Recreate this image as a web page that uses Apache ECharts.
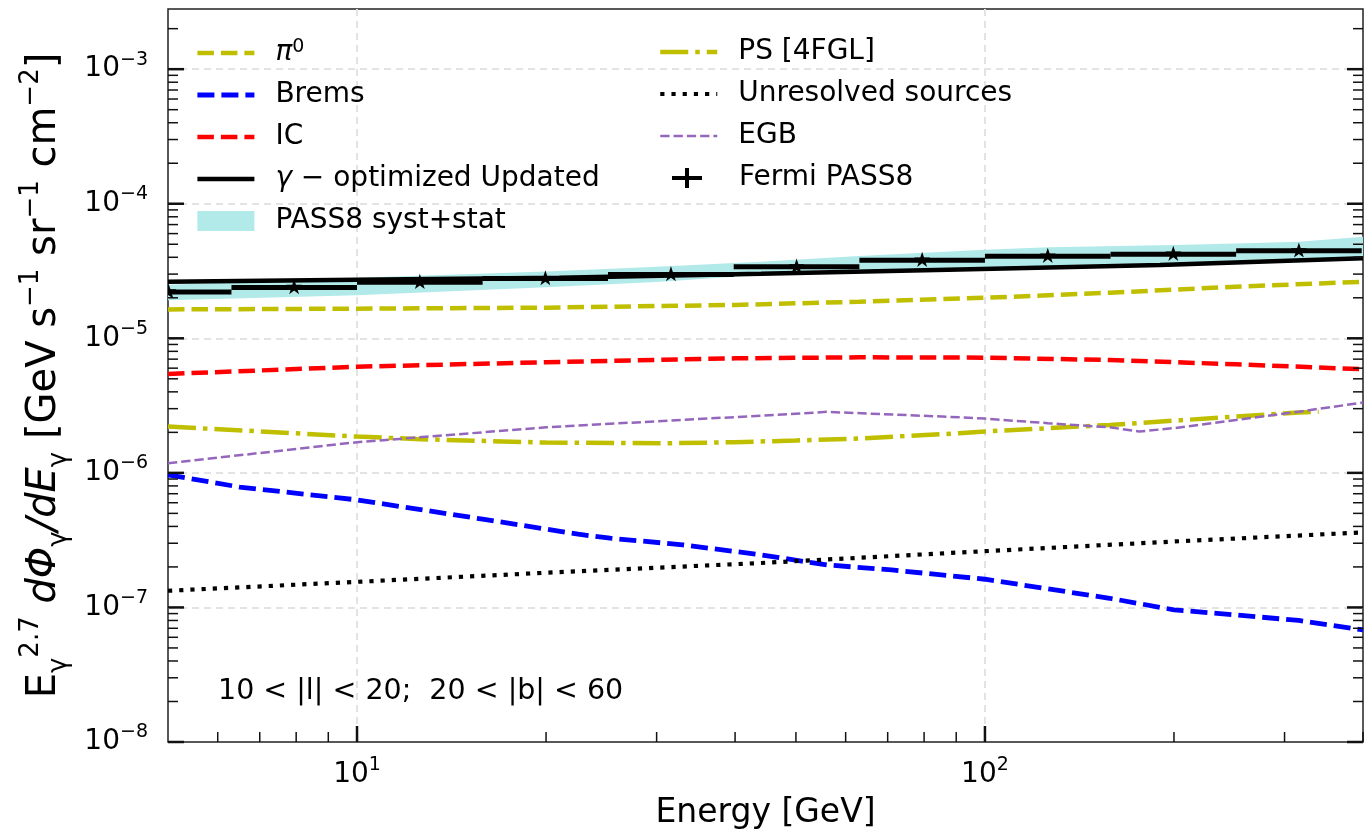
<!DOCTYPE html>
<html>
<head>
<meta charset="utf-8">
<script src="https://cdn.jsdelivr.net/npm/echarts@6/dist/echarts.min.js"></script>
<style>
  html, body { margin: 0; padding: 0; background: #fff; }
  #chart { width: 1367px; height: 834px; }
</style>
</head>
<body>
<div id="chart"></div>
<script>
const FONT = 'DejaVu Sans';

// Axis ranges
const X_MIN = 5, X_MAX = 400;
const Y_MIN = 1e-8, Y_MAX = 2.8e-3;

// Fermi-LAT PASS8 spectrum: energy bins [GeV] and E^2.7-weighted intensity
const fermiLow  = [3.98, 6.31, 10.0, 15.85, 25.1, 39.8, 63.1, 100, 158.5, 251.2];
const fermiHigh = [6.31, 10.0, 15.85, 25.1, 39.8, 63.1, 100, 158.5, 251.2, 398.1];
const fermiE    = [5.01, 7.94, 12.59, 19.95, 31.62, 50.12, 79.43, 125.9, 199.5, 316.2];
const fermiFlux = [2.21e-5, 2.39e-5, 2.61e-5, 2.78e-5, 2.98e-5, 3.40e-5, 3.81e-5, 4.08e-5, 4.22e-5, 4.47e-5];

// PASS8 systematic + statistical envelope
const bandE     = [5, 10, 20, 30, 44, 63, 100, 126, 200, 251, 316, 400];
const bandUpper = [2.50e-5, 2.82e-5, 3.13e-5, 3.40e-5, 3.71e-5, 4.09e-5, 4.55e-5, 4.74e-5, 4.93e-5, 5.07e-5, 5.21e-5, 5.68e-5];
const bandLower = [1.92e-5, 2.09e-5, 2.40e-5, 2.62e-5, 2.95e-5, 3.08e-5, 3.20e-5, 3.30e-5, 3.45e-5, 3.55e-5, 3.68e-5, 3.85e-5];

// Total model (gamma-optimized, updated)
const totalE    = [5, 10, 21, 44, 91, 190, 400];
const totalFlux = [2.63e-5, 2.72e-5, 2.82e-5, 3.02e-5, 3.25e-5, 3.50e-5, 3.93e-5];

// Pion decay and inverse Compton
const compE  = [5, 10, 20, 40, 63, 100, 158, 251, 400];
const pi0    = [1.64e-5, 1.66e-5, 1.69e-5, 1.77e-5, 1.87e-5, 2.00e-5, 2.18e-5, 2.42e-5, 2.63e-5];
const icFlux = [5.43e-6, 6.15e-6, 6.64e-6, 7.10e-6, 7.22e-6, 7.18e-6, 6.90e-6, 6.41e-6, 5.89e-6];

// Bremsstrahlung
const bremsE    = [5, 6.5, 10, 15.85, 22.5, 25.3, 33, 44, 56, 71, 100, 158, 200, 251, 316, 400];
const bremsFlux = [9.66e-7, 7.85e-7, 6.30e-7, 4.53e-7, 3.50e-7, 3.27e-7, 2.92e-7, 2.46e-7, 2.07e-7, 1.90e-7, 1.62e-7, 1.17e-7, 9.6e-8, 8.8e-8, 8.0e-8, 6.8e-8];

// Resolved point sources (4FGL)
const psE    = [5, 10, 12.6, 20, 31.6, 40, 50, 63, 91, 100, 158, 251, 316, 340];
const psFlux = [2.21e-6, 1.86e-6, 1.78e-6, 1.68e-6, 1.66e-6, 1.69e-6, 1.74e-6, 1.80e-6, 1.97e-6, 2.03e-6, 2.27e-6, 2.62e-6, 2.81e-6, 2.85e-6];

// Extragalactic background
const egbE    = [5, 10, 20, 31.6, 44, 56, 91, 100, 126, 158, 176, 200, 251, 316, 400];
const egbFlux = [1.18e-6, 1.69e-6, 2.18e-6, 2.45e-6, 2.66e-6, 2.84e-6, 2.59e-6, 2.53e-6, 2.34e-6, 2.18e-6, 2.03e-6, 2.15e-6, 2.47e-6, 2.85e-6, 3.33e-6];

// Unresolved sources
const unresE    = [5, 10, 21, 44, 91, 200, 400];
const unresFlux = [1.33e-7, 1.55e-7, 1.83e-7, 2.14e-7, 2.56e-7, 3.09e-7, 3.61e-7];

// Tick positions
const xMajorTicks = [10, 100];
const xMinorTicks = [6, 7, 8, 9, 20, 30, 40, 50, 60, 70, 80, 90, 200, 300, 400];
const yDecades = [-8, -7, -6, -5, -4, -3];

const regionLabel = '10 < |l| < 20;  20 < |b| < 60';

const BAND_COLOR = '#b2eaea';
const STAR = 'M50,0L61.2,34.5L97.6,34.5L68.2,55.9L79.4,90.5L50,69.1L20.6,90.5L31.8,55.9L2.4,34.5L38.8,34.5Z';

// line styles shared by curves and their legend handles
const STYLE = {
  'pi0':                { color: '#bfbf00', width: 4.5, type: [16.5, 7] },
  'Brems':              { color: '#0000ff', width: 4.8, type: [17, 7] },
  'IC':                 { color: '#ff0000', width: 4.5, type: [16.5, 7] },
  'gamma':              { color: '#000000', width: 4.5, type: 'solid' },
  'PS [4FGL]':          { color: '#bfbf00', width: 4.5, type: [28, 7, 4.5, 7] },
  'Unresolved sources': { color: '#000000', width: 4.2, type: [4.2, 7] },
  'EGB':                { color: '#9467bd', width: 2.5, type: [9.3, 4] }
};

const zip = (xs, ys) => xs.map((x, i) => [x, ys[i]]);

// y tick table: [x, value, isMajor]
const yTickData = [];
yDecades.forEach(k => {
  yTickData.push([X_MIN, Math.pow(10, k), 1]);
  for (let m = 2; m <= 9; m++) {
    const v = m * Math.pow(10, k);
    if (v <= Y_MAX) yTickData.push([X_MIN, v, 0]);
  }
});
const xTickData = xMajorTicks.map(v => [v, Y_MIN, 1]).concat(xMinorTicks.map(v => [v, Y_MIN, 0]));

const richBase = {
  b: { fontFamily: FONT, fontSize: 28, color: '#000', lineHeight: 38 },
  p: { fontFamily: FONT, fontSize: 19, color: '#000', lineHeight: 20, verticalAlign: 'top' }
};

function powLabel(v) {
  const lg = Math.log10(v);
  const k = Math.round(lg);
  if (Math.abs(lg - k) > 1e-6) return '';
  return '{b|10}{p|' + (k < 0 ? '\u2212' + (-k) : k) + '}';
}

const legendRich = {
  b: { fontFamily: FONT, fontSize: 28, color: '#000', lineHeight: 30 },
  i: { fontFamily: FONT, fontSize: 28, fontStyle: 'italic', color: '#000', lineHeight: 30 },
  p: { fontFamily: FONT, fontSize: 19, color: '#000', lineHeight: 18, verticalAlign: 'top' }
};
function legendText(name) {
  if (name === 'pi0') return '{i|\u03c0}{p|0}';
  if (name === 'gamma') return '{i|\u03b3}{b| \u2212 optimized Updated}';
  return '{b|' + name + '}';
}
function lineLegendItem(name) {
  const s = STYLE[name];
  return { name: name, lineStyle: { width: s.width, type: s.type, color: s.color } };
}
const legendCommon = {
  orient: 'vertical',
  padding: 0,
  itemWidth: 57,
  itemHeight: 20,
  itemGap: 14,
  formatter: legendText,
  selectedMode: false,
  itemStyle: { opacity: 0 },
  textStyle: { rich: legendRich, padding: [0, 0, 0, 16] }
};

function lineSeries(name, data) {
  const s = STYLE[name];
  return {
    type: 'line', name: name, data: data, symbol: 'none', smooth: false,
    lineStyle: { color: s.color, width: s.width, type: s.type, cap: 'butt' },
    itemStyle: { color: s.color }, z: 3, silent: true
  };
}

const chart = echarts.init(document.getElementById('chart'), null, { renderer: 'canvas' });

const option = {
  animation: false,
  backgroundColor: '#fff',
  grid: {
    left: 168, right: 4, top: 9, bottom: 92,
    outerBoundsMode: 'none', containLabel: false,
    show: true, borderColor: '#222', borderWidth: 1.5, backgroundColor: 'transparent'
  },
  xAxis: {
    type: 'log', logBase: 10, min: X_MIN, max: X_MAX,
    name: 'Energy [GeV]', nameLocation: 'middle', nameGap: 55, nameMoveOverlap: false,
    nameTextStyle: { fontFamily: FONT, fontSize: 33, color: '#000' },
    axisLine: { show: false },
    axisTick: { show: false },
    axisLabel: {
      formatter: powLabel, margin: 14, showMinLabel: false, showMaxLabel: false,
      rich: richBase
    },
    splitLine: {
      show: true, showMinLine: false, showMaxLine: false,
      lineStyle: { color: '#e3e3e3', width: 2, type: [7, 5] }
    },
    minorTick: { show: false }, minorSplitLine: { show: false }
  },
  yAxis: {
    type: 'log', logBase: 10, min: Y_MIN, max: Y_MAX,
    name: '{b|E}{s|\u03b3}{p|2.7}{b| }{i|d\u03a6}{s|\u03b3}{i|/dE}{s|\u03b3}{b| [GeV s}{p|\u22121}{b| sr}{p|\u22121}{b| cm}{p|\u22122}{b|]}',
    nameLocation: 'middle', nameRotate: 90, nameGap: 96, nameMoveOverlap: false,
    nameTextStyle: {
      rich: {
        b: { fontFamily: FONT, fontSize: 40, color: '#000', lineHeight: 54 },
        i: { fontFamily: FONT, fontSize: 40, fontStyle: 'italic', color: '#000', lineHeight: 54 },
        s: { fontFamily: FONT, fontSize: 26, color: '#000', lineHeight: 27, verticalAlign: 'bottom' },
        p: { fontFamily: FONT, fontSize: 26, color: '#000', lineHeight: 27, verticalAlign: 'top' }
      }
    },
    axisLine: { show: false },
    axisTick: { show: false },
    axisLabel: {
      formatter: powLabel, margin: 20, showMinLabel: true, showMaxLabel: false,
      rich: richBase
    },
    splitLine: {
      show: true, showMinLine: false, showMaxLine: false,
      lineStyle: { color: '#e3e3e3', width: 2, type: [7, 5] }
    },
    minorTick: { show: false }, minorSplitLine: { show: false }
  },
  legend: [
    Object.assign({}, legendCommon, {
      left: 195, top: 38,
      data: ['pi0', 'Brems', 'IC', 'gamma'].map(lineLegendItem).concat([
        { name: 'PASS8 syst+stat', icon: 'rect', itemStyle: { color: BAND_COLOR, opacity: 1 } }])
    }),
    Object.assign({}, legendCommon, {
      left: 658, top: 38,
      data: ['PS [4FGL]', 'Unresolved sources', 'EGB'].map(lineLegendItem)
    }),
    Object.assign({}, legendCommon, {
      left: 672, top: 164, itemWidth: 30,
      itemStyle: { opacity: 1 },
      textStyle: { rich: legendRich, padding: [0, 0, 0, 32] },
      data: [{ name: 'Fermi PASS8', icon: 'path://M0,8L30,8L30,12L0,12Z M13,0L17,0L17,20L13,20Z',
               itemStyle: { color: '#000', opacity: 1 } }]
    })
  ],
  graphic: [{
    type: 'text', left: 218, top: 677, silent: true,
    style: { text: regionLabel, fontFamily: FONT, fontSize: 28.5, fill: '#000' }
  }],
  series: [
    {
      // uncertainty envelope drawn as one polygon
      type: 'custom', name: 'PASS8 syst+stat', silent: true, clip: true, z: 1,
      itemStyle: { color: BAND_COLOR },
      data: [[bandE[0], bandUpper[0]]],
      renderItem: function (params, api) {
        const pts = [];
        bandE.forEach((e, i) => pts.push(api.coord([e, bandUpper[i]])));
        for (let i = bandE.length - 1; i >= 0; i--) pts.push(api.coord([bandE[i], bandLower[i]]));
        return { type: 'polygon', shape: { points: pts }, style: { fill: BAND_COLOR } };
      }
    },
    lineSeries('pi0', zip(compE, pi0)),
    lineSeries('Brems', zip(bremsE, bremsFlux)),
    lineSeries('IC', zip(compE, icFlux)),
    lineSeries('gamma', zip(totalE, totalFlux)),
    lineSeries('PS [4FGL]', zip(psE, psFlux)),
    lineSeries('Unresolved sources', zip(unresE, unresFlux)),
    lineSeries('EGB', zip(egbE, egbFlux)),
    {
      // binned measurement: horizontal bin bar with a star at the bin centre
      type: 'custom', name: 'Fermi PASS8', silent: true, clip: true, z: 4,
      itemStyle: { color: '#000' },
      data: fermiE.map((e, i) => [e, fermiFlux[i], fermiLow[i], fermiHigh[i]]),
      renderItem: function (params, api) {
        const v = api.value(1);
        const c = api.coord([api.value(0), v]);
        const a = api.coord([api.value(2), v]);
        const b = api.coord([api.value(3), v]);
        const k = 16 / 95.2;
        return {
          type: 'group',
          children: [
            { type: 'line', shape: { x1: a[0], y1: a[1], x2: b[0], y2: b[1] },
              style: { stroke: '#000', lineWidth: 5 } },
            { type: 'path',
              shape: { pathData: STAR, x: c[0] - 47.6 * k, y: c[1] - 50 * k, width: 95.2 * k, height: 90.5 * k },
              style: { fill: '#000' } }
          ]
        };
      }
    },
    {
      // inward ticks on left and right frame
      type: 'custom', name: 'yTicks', silent: true, z: 6,
      data: yTickData,
      renderItem: function (params, api) {
        const cs = params.coordSys;
        const p = api.coord([api.value(0), api.value(1)]);
        const major = api.value(2) === 1;
        const len = major ? 16 : 10;
        const lw = major ? 2.5 : 1.5;
        return {
          type: 'group',
          children: [
            { type: 'line', shape: { x1: cs.x, y1: p[1], x2: cs.x + len, y2: p[1] },
              style: { stroke: '#111', lineWidth: lw } },
            { type: 'line', shape: { x1: cs.x + cs.width, y1: p[1], x2: cs.x + cs.width - len, y2: p[1] },
              style: { stroke: '#111', lineWidth: lw } }
          ]
        };
      }
    },
    {
      // inward ticks on the bottom frame
      type: 'custom', name: 'xTicks', silent: true, z: 6,
      data: xTickData,
      renderItem: function (params, api) {
        const cs = params.coordSys;
        const p = api.coord([api.value(0), api.value(1)]);
        const major = api.value(2) === 1;
        const len = major ? 16 : 10;
        const bottom = cs.y + cs.height;
        return {
          type: 'line', shape: { x1: p[0], y1: bottom, x2: p[0], y2: bottom - len },
          style: { stroke: '#111', lineWidth: major ? 2.5 : 1.5 }
        };
      }
    }
  ]
};

chart.setOption(option);
</script>
</body>
</html>
